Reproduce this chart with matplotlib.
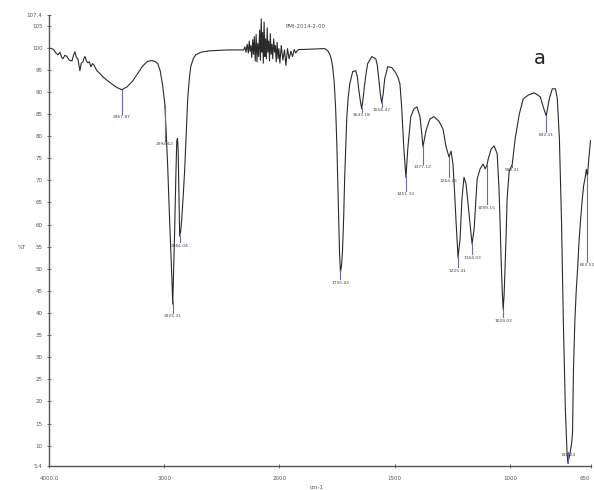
import numpy as np
import matplotlib.pyplot as plt

# 光谱数据 (波数 cm-1, 透过率 %T)
wn_a = [4000, 3960, 3940, 3922, 3905, 3890, 3879, 3862, 3844, 3825, 3801, 3788, 3775, 3762, 3749,
        3740, 3732, 3720, 3706, 3697, 3688, 3675, 3662, 3650, 3636, 3622, 3610, 3597, 3584, 3560,
        3532, 3495, 3454, 3410, 3368, 3320, 3273, 3230, 3186, 3145, 3108, 3080, 3056, 3035, 3013,
        2995, 2982, 2969, 2956, 2943, 2933, 2926, 2918, 2909, 2900, 2891, 2885, 2879, 2872, 2866,
        2857, 2848, 2835, 2822, 2810, 2796, 2783, 2770, 2748, 2727, 2680, 2606, 2450, 2330]
T_a = [100.0, 99.6, 98.8, 98.4, 99.0, 97.8, 97.5, 98.3, 98.0, 97.2, 97.0, 98.2, 99.1, 97.8, 97.5,
       96.0, 94.8, 96.5, 96.8, 97.6, 98.0, 97.0, 96.6, 96.8, 95.7, 96.4, 96.1, 95.4, 94.8, 94.2,
       93.4, 92.6, 91.8, 91.0, 90.5, 91.2, 92.5, 94.2, 95.9, 96.9, 97.1, 96.9, 96.4, 94.8, 91.4,
       87.3, 80.5, 72.6, 63.0, 54.4, 47.5, 42.0, 50.0, 59.0, 70.0, 78.9, 79.5, 77.1, 67.0, 57.4,
       58.5, 61.2, 66.5, 72.6, 80.0, 88.4, 92.8, 95.7, 97.5, 98.4, 99.0, 99.3, 99.5, 99.5]

# CO2 / 噪声区
wn_noise = [2310, 2300, 2290, 2280, 2270, 2262, 2255, 2248, 2240, 2232, 2225, 2218, 2210, 2202,
            2195, 2188, 2180, 2172, 2165, 2158, 2152, 2146, 2140, 2133, 2126, 2120, 2113, 2106,
            2100, 2093, 2086, 2079, 2072, 2065, 2058, 2050, 2042, 2035, 2028, 2020, 2012, 2005,
            1998, 1992, 1985, 1978, 1972, 1965, 1958, 1950, 1943, 1936, 1929, 1922, 1915]
T_noise = [99.5, 100.2, 99.0, 100.8, 98.8, 101.5, 99.2, 100.5, 97.8, 101.8, 98.5, 102.5, 97.0, 103.0,
           96.8, 101.0, 98.0, 104.0, 97.2, 106.5, 99.0, 103.5, 96.5, 105.8, 98.0, 102.0, 97.5, 104.5,
           99.0, 101.5, 97.0, 103.2, 98.5, 100.8, 97.5, 102.0, 99.0, 100.5, 96.8, 101.2, 97.5, 99.8,
           96.5, 100.5, 97.2, 99.5, 96.0, 99.8, 97.5, 99.2, 98.0, 99.6, 98.8, 99.4, 99.6]

wn_b = [1900, 1850, 1804, 1790, 1782, 1775, 1769, 1762, 1756, 1751, 1747, 1743, 1739, 1735, 1730,
        1726, 1721, 1717, 1712, 1708, 1702, 1695, 1682, 1669, 1662, 1656, 1649, 1643, 1637, 1630,
        1623, 1617, 1599, 1582, 1575, 1569, 1562, 1556, 1550, 1543, 1530, 1512, 1495, 1485, 1477,
        1469, 1460, 1451, 1443, 1430, 1416, 1403, 1390, 1383, 1377, 1370, 1364, 1347, 1329, 1308,
        1290, 1277, 1264, 1255, 1247, 1240, 1234, 1225, 1216, 1208, 1199, 1190, 1177, 1164, 1155,
        1148, 1142, 1129, 1116, 1107, 1099, 1094, 1081, 1068, 1055, 1047, 1042, 1038, 1033, 1029,
        1025, 1021, 1016, 1012, 1003, 990, 977, 959, 942, 920, 894, 868, 855, 842, 829,
        816, 802, 794, 785, 776, 768, 759, 752, 748, 744, 738, 732, 728, 724, 718,
        712, 706, 700, 693, 686, 680, 672, 668, 663, 658, 652, 650]
T_b = [99.6, 99.7, 99.8, 99.3, 98.6, 97.5, 95.7, 92.0, 86.2, 78.5, 70.3, 61.5, 53.3, 49.2, 51.0,
       54.4, 62.0, 70.3, 77.5, 83.9, 88.5, 91.8, 94.6, 94.8, 93.5, 90.7, 88.0, 86.2, 88.5, 91.8,
       94.5, 96.4, 98.0, 97.5, 96.0, 93.0, 89.5, 87.5, 89.5, 93.0, 95.7, 95.5, 94.3, 93.2, 91.8,
       86.2, 77.1, 70.7, 77.1, 84.4, 86.2, 86.6, 84.4, 81.0, 77.6, 79.5, 81.2, 83.9, 84.4, 83.4,
       81.6, 77.6, 75.3, 76.6, 73.7, 67.5, 61.2, 52.6, 56.7, 65.8, 70.7, 69.2, 62.4, 55.6, 59.0,
       65.0, 70.3, 72.6, 73.7, 72.6, 73.5, 74.8, 77.1, 77.8, 76.0, 68.0, 60.0, 52.2, 45.0, 40.8,
       44.0, 49.9, 58.0, 65.8, 72.1, 73.5, 79.4, 85.0, 88.4, 89.3, 89.8, 88.9, 86.6, 84.6, 88.4,
       90.7, 90.7, 88.4, 79.4, 61.2, 38.5, 18.1, 8.5, 6.0, 7.0, 8.5, 10.5, 13.0, 27.0, 38.0,
       45.0, 50.0, 56.0, 61.2, 65.5, 68.7, 71.0, 72.5, 71.0, 74.5, 78.0, 79.0]

# 峰标注
peak_wn = [3367.87, 2994.62, 2925.31, 2866.04, 1735.42, 1643.18, 1556.47, 1451.33, 1377.12,
           1264.25, 1225.41, 1164.03, 1099.15, 1029.02, 990.31, 842.11, 748.24, 663.52]
label_T = [85.0, 78.9, 40.0, 56.0, 47.6, 85.5, 86.6, 67.6, 73.7,
           70.7, 50.3, 53.3, 64.6, 39.0, 73.0, 81.0, 8.6, 51.5]

yticks = [5.4, 10, 15, 20, 25, 30, 35, 40, 45, 50, 55, 60, 65, 70, 75, 80, 85, 90, 95, 100, 105, 107.4]
ytick_labels = ['5.4'] + [str(v) for v in yticks[1:-1]] + ['107.4']
xticks = [4000, 3000, 2000, 1500, 1000, 650]
xtick_labels = ['4000.0', '3000', '2000', '1500', '1000', '650']

wn = np.array(wn_a + wn_noise + wn_b, dtype=float)
T = np.array(T_a + T_noise + T_b, dtype=float)


# 2000 cm-1 以上压缩一半
def fwd(w):
    w = np.asarray(w, dtype=float)
    return np.where(w <= 2000, w, 2000 + (w - 2000) / 2)


def inv(u):
    u = np.asarray(u, dtype=float)
    return np.where(u <= 2000, u, 2000 + (u - 2000) * 2)


fig = plt.figure(figsize=(5.94, 4.9), dpi=100)
ax = fig.add_axes([49 / 594, 1 - 466 / 490, (590.5 - 49) / 594, (466 - 15) / 490])

ax.set_xscale('function', functions=(fwd, inv))
ax.set_xlim(4000, 650)
ax.set_ylim(5.4, 107.4)

ax.plot(wn, T, color='#2a2a2a', linewidth=0.8)

# 峰位竖线与数值
order = np.argsort(wn)
for pw, lt in zip(peak_wn, label_T):
    pt = np.interp(pw, wn[order], T[order])
    ax.plot([pw, pw], [pt, lt], color='#6b6bb0', linewidth=0.8)
    ax.text(pw, lt - 0.3, f'{pw:.2f}', fontsize=3.2, color='#444444', ha='center', va='top')

for s in ['top', 'right']:
    ax.spines[s].set_visible(False)
for s in ['left', 'bottom']:
    ax.spines[s].set_color('#555555')
    ax.spines[s].set_linewidth(1.0)

ax.set_xticks(xticks)
ax.set_xticklabels(xtick_labels)
ax.set_yticks(yticks)
ax.set_yticklabels(ytick_labels)
ax.tick_params(axis='both', labelsize=4, colors='#555555', length=2.5, width=0.6, direction='inout')
ax.tick_params(axis='x', pad=6)
ax.minorticks_off()
# 最右边的刻度标签靠右对齐，避免被裁掉
ax.get_xticklabels()[-1].set_horizontalalignment('right')

fig.text(22 / 594, 1 - 247 / 490, '%T', fontsize=4, color='#555555', ha='center', va='center')
fig.text(317 / 594, 1 - 487 / 490, 'cm-1', fontsize=4, color='#555555', ha='center', va='center')
fig.text(305 / 594, 1 - 27 / 490, 'PMI-2014-2-00', fontsize=4, color='#555555', ha='center', va='center')
fig.text(540 / 594, 1 - 58 / 490, 'a', fontsize=14, color='#222222', ha='center', va='center')

fig.savefig('out.png', dpi=100)
